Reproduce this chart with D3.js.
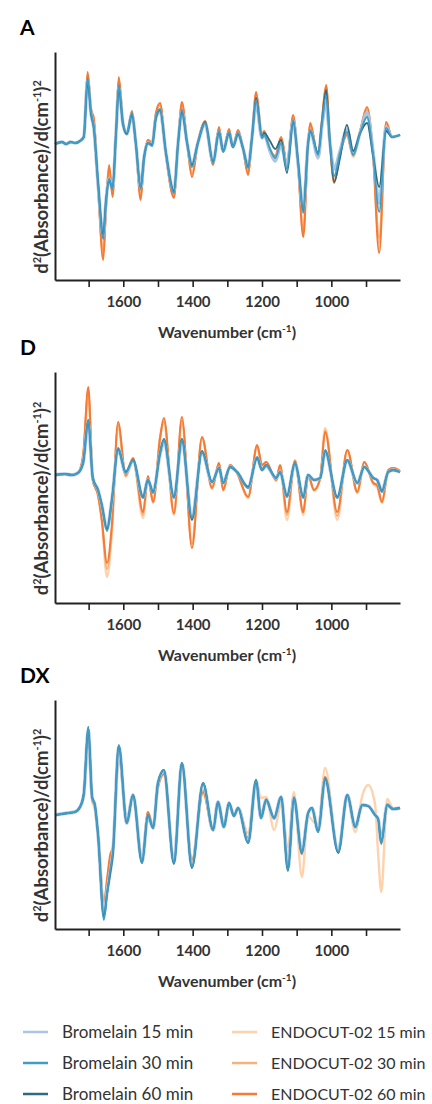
<!DOCTYPE html>
<html>
<head>
<meta charset="utf-8">
<script src="https://cdnjs.cloudflare.com/ajax/libs/d3/7.8.5/d3.min.js"></script>
<style>
  body { margin: 0; background: #fff; }
  text { font-family: Lato, "Open Sans", sans-serif; }
</style>
</head>
<body>
<svg id="chart" width="432" height="1104"></svg>
<script>

// legend entries
var seriesNames = ['Bromelain 15 min', 'Bromelain 30 min', 'Bromelain 60 min',
                   'ENDOCUT-02 15 min', 'ENDOCUT-02 30 min', 'ENDOCUT-02 60 min'];
var seriesColors = ['#a8c6e6', '#3f9dc6', '#2c6b7e', '#fdd3ae', '#fbb27a', '#f47a35'];
var xTicks = [1700, 1600, 1500, 1400, 1300, 1200, 1100, 1000, 900];
var xTickLabels = [1600, 1400, 1200, 1000];

// ---- panel A (second derivative, arbitrary units) ----
var wnA = [1797,1777,1765,1752,1738,1725,1714,1703,1693,1685,1673,1658,1650,1641,1631,1621,1613,1601,1590,1575,
           1564,1550,1540,1529,1517,1506,1494,1477,1454,1442,1431,1416,1402,1385,1364,1341,1324,1312,1295,1284,
           1269,1255,1240,1229,1217,1200,1194,1177,1162,1145,1128,1110,1096,1081,1067,1061,1038,1027,1015,1004,
           992,975,955,937,917,897,880,862,842,825,802];
var aB15 = [-1,1,-1,1,0,2,6,62,29,15,-40,-93,-58,-36,-45,10,55,19,9,28,
            0,-45,-14,0,-2,25,32,-10,-48,0,31,0,-22,0,19,-19,11,-8,10,-4,
            9,-5,-23,5,40,5,8,-8,-18,-2,-24,22,-20,-65,0,12,-14,18,40,0,
            -26,-8,13,-10,10,30,-8,-60,16,6,8];
var aB30 = [-1,1,-1,1,0,2,6,65,30,16,-40,-96,-60,-36,-46,10,58,20,10,30,
            0,-46,-15,0,-3,26,34,-10,-50,0,33,0,-24,0,20,-20,12,-9,11,-4,
            10,-5,-25,5,43,5,8,-6,-15,0,-26,23,-20,-70,0,13,-12,20,47,0,
            -33,-10,11,-12,10,26,-10,-69,15,6,8];
var aB60 = [-1,1,-1,1,0,2,6,62,29,15,-38,-92,-58,-37,-46,10,55,19,9,28,
            0,-45,-14,0,-2,25,33,-10,-48,0,31,0,-22,0,21,-19,11,-8,10,-4,
            9,-5,-24,5,45,6,10,2,-6,3,-30,21,-18,-68,0,12,-10,22,53,0,
            -39,-15,18,-8,10,20,-12,-44,12,6,8];
var aE15 = [-1,1,-1,1,0,2,7,68,33,22,-42,-110,-65,-25,-50,12,62,20,9,30,
            0,-52,-15,3,0,29,38,-12,-53,0,38,0,-30,0,21,-21,14,-9,13,-4,
            12,-5,-29,5,48,8,12,-8,-16,5,-21,26,-22,-90,0,18,-16,22,56,0,
            -36,-11,8,-14,12,34,-10,-100,20,6,8];
var aE30 = [-1,1,-1,1,0,2,7,68,32,22,-42,-108,-64,-26,-50,12,63,20,9,30,
            0,-53,-15,3,0,29,38,-12,-53,0,39,0,-31,0,21,-21,15,-9,13,-4,
            12,-5,-30,5,49,7,11,-7,-14,5,-21,26,-22,-88,0,18,-14,22,56,0,
            -38,-11,8,-13,12,33,-10,-95,20,6,8];
var aE60 = [-1,1,-1,1,0,2,7,71,34,25,-43,-117,-66,-22,-54,12,66,21,9,32,
            0,-57,-16,3,0,30,40,-12,-55,0,41,0,-34,0,22,-22,16,-9,14,-4,
            13,-5,-32,5,51,8,12,-6,-13,6,-20,28,-22,-94,0,20,-14,23,58,0,
            -40,-11,8,-12,12,36,-10,-110,21,6,8];

// ---- panel D ----
var wnD = [1797,1768,1748,1731,1716,1701,1688,1673,1662,1647,1633,1615,1593,1572,1543,1529,1514,1494,1483,1454,
           1431,1402,1373,1344,1324,1312,1292,1272,1240,1214,1200,1188,1159,1148,1128,1105,1081,1067,1050,1032,
           1018,983,954,925,905,879,868,854,836,822,802];
var dB15 = [0,1,0,2,12,52,-3,-15,-30,-54,-25,26,2,14,-22,-5,-17,21,33,-22,
            33,-41,22,-7,7,-8,8,3,-12,17,5,9,-3,3,-21,11,-22,0,-5,-3,
            23,-22,14,-8,8,-3,-5,-16,3,5,3];
var dB30 = [0,1,0,2,12,55,-3,-15,-30,-56,-26,27,2,15,-23,-5,-18,22,35,-23,
            35,-43,23,-7,7,-8,8,3,-13,18,5,10,-3,3,-22,12,-23,0,-5,-3,
            25,-23,15,-8,8,-3,-5,-17,3,5,3];
var dB60 = [0,1,0,2,12,55,-3,-15,-30,-54,-25,26,3,15,-22,-5,-17,22,36,-22,
            36,-45,24,-7,7,-8,8,3,-12,17,5,10,-3,3,-21,12,-22,0,-5,-3,
            24,-22,15,-8,8,-3,-5,-16,3,5,3];
var dE15 = [0,1,0,2,16,80,-5,-20,-45,-102,-58,48,-2,15,-43,-3,-28,38,52,-40,
            52,-66,37,-14,12,-16,10,2,-23,28,9,12,-6,9,-45,15,-40,0,-16,-3,
            47,-45,24,-18,13,-9,-12,-28,4,7,4];
var dE30 = [0,1,0,2,18,84,-5,-20,-45,-94,-55,50,-1,16,-40,-2,-27,37,54,-39,
            55,-69,37,-13,12,-15,10,2,-22,29,9,13,-5,9,-40,14,-38,0,-15,-3,
            45,-41,25,-17,13,-8,-11,-27,5,7,4];
var dE60 = [0,1,0,2,20,88,-5,-20,-45,-88,-50,53,0,17,-37,-1,-27,37,57,-38,
            58,-73,38,-13,12,-15,10,2,-22,30,10,13,-5,10,-37,14,-37,0,-15,-3,
            43,-37,25,-17,13,-8,-10,-27,5,7,4];

// ---- panel DX ----
var wnX = [1797,1760,1740,1725,1714,1701,1690,1682,1673,1656,1647,1638,1630,1613,1590,1572,1546,1529,1514,1500,
           1483,1454,1431,1402,1370,1341,1327,1310,1295,1281,1269,1240,1217,1203,1188,1165,1145,1125,1108,1085,
           1067,1056,1038,1018,980,954,931,911,894,874,865,856,839,822,802];
var xB15 = [-1,1,2,7,20,84,17,9,-20,-100,-78,-58,-38,67,-9,19,-48,-2,-14,31,
            43,-48,50,-52,30,-16,12,-13,11,-2,6,-28,33,-4,14,-4,17,-54,16,-38,
            1,6,-17,34,-37,19,-13,9,8,-1,-5,-28,9,5,6];
var xB30 = [-1,1,2,7,20,87,17,9,-20,-106,-80,-57,-38,69,-9,19,-49,-1,-14,31,
            44,-49,51,-53,31,-16,12,-13,11,-2,6,-29,34,-4,14,-4,17,-56,16,-39,
            1,6,-18,36,-38,19,-13,9,8,-1,-5,-29,9,5,6];
var xB60 = [-1,1,2,7,20,87,17,9,-20,-103,-80,-60,-40,68,-9,19,-49,-1,-14,31,
            44,-50,51,-54,31,-16,12,-13,11,-2,6,-29,34,-4,14,-4,17,-57,16,-39,
            1,6,-18,35,-39,19,-13,9,8,-1,-5,-29,9,5,6];
var xE15 = [-1,1,2,6,17,71,13,5,-22,-86,-72,-55,-38,57,-5,19,-46,2,-12,26,
            39,-46,46,-46,21,-16,12,-13,11,-2,6,-19,34,16,17,-16,9,-33,22,-63,
            -2,-6,-11,46,-38,17,-18,18,29,10,-40,-78,15,6,6];
var xE30 = [-1,1,2,7,19,78,15,7,-21,-92,-70,-50,-35,60,-6,19,-47,1,-13,28,
            41,-48,48,-48,24,-16,12,-13,11,-2,6,-25,34,-2,15,-5,15,-50,17,-40,
            1,5,-16,37,-38,19,-13,9,8,-1,-5,-30,10,5,6];
var xE60 = [-1,1,2,7,19,80,15,7,-21,-90,-65,-41,-33,58,-5,19,-46,2,-13,27,
            40,-47,47,-46,22,-16,12,-13,11,-2,6,-24,34,-1,15,-5,15,-48,17,-40,
            1,5,-16,37,-38,19,-13,9,8,-1,-5,-30,10,5,6];


var panels = [
    {label: 'A',  top: 52,  bottom: 280, yDomain: [-137, 91],  wn: wnA, values: [aB15, aB30, aB60, aE15, aE30, aE60]},
    {label: 'D',  top: 372, bottom: 603, yDomain: [-128, 103], wn: wnD, values: [dB15, dB30, dB60, dE15, dE30, dE60]},
    {label: 'DX', top: 700, bottom: 929, yDomain: [-115, 114], wn: wnX, values: [xB15, xB30, xB60, xE15, xE30, xE60]}
];

// draw order: orange series first, then the light blue halo, dark teal, mid blue on top
var drawOrder = [3, 4, 5, 0, 2, 1];
var strokeW = [3.4, 1.8, 1.8, 2.4, 2, 2];

var svg = d3.select('#chart');
var x = d3.scaleLinear().domain([1797, 802]).range([55, 400]);

panels.forEach(function(p) {
    var y = d3.scaleLinear().domain(p.yDomain).range([p.bottom, p.top]);
    var g = svg.append('g');

    //Panel letter
    g.append('text')
        .attr('x', 20).attr('y', p.top - 17)
        .attr('font-size', 21).attr('font-weight', 'bold').attr('fill', '#000')
        .text(p.label);

    var line = d3.line()
        .x(function(d) { return x(d[0]); })
        .y(function(d) { return y(d[1]); })
        .curve(d3.curveMonotoneX);

    drawOrder.forEach(function(s) {
        var pts = p.wn.map(function(w, i) { return [w, p.values[s][i]]; });
        g.append('path')
            .attr('d', line(pts))
            .attr('fill', 'none')
            .attr('stroke', seriesColors[s])
            .attr('stroke-width', strokeW[s])
            .attr('stroke-linejoin', 'round');
    });

    //Axes
    var xAxis = d3.axisBottom(x)
        .tickValues(xTicks)
        .tickSizeInner(7).tickSizeOuter(0).tickPadding(9)
        .tickFormat(function(d) { return xTickLabels.indexOf(d) >= 0 ? d : ''; });
    var xg = g.append('g').attr('transform', 'translate(0,' + p.bottom + ')').call(xAxis);
    xg.select('.domain').attr('stroke', '#222').attr('stroke-width', 2);
    xg.selectAll('.tick line').attr('stroke', '#222').attr('stroke-width', 1.6);
    xg.selectAll('.tick text')
        .attr('font-family', 'Lato, sans-serif')
        .attr('font-size', 15).attr('font-weight', 'bold').attr('fill', '#333');

    var yAxis = d3.axisLeft(y).tickValues([]).tickSizeOuter(0);
    var yg = g.append('g').attr('transform', 'translate(55,0)').call(yAxis);
    yg.select('.domain').attr('stroke', '#222').attr('stroke-width', 2);

    //Axis titles
    var xt = g.append('text')
        .attr('x', 227).attr('y', p.bottom + 58)
        .attr('text-anchor', 'middle')
        .attr('font-size', 16).attr('font-weight', 'bold').attr('fill', '#333');
    xt.append('tspan').text('Wavenumber (cm');
    xt.append('tspan').attr('dy', -6).attr('font-size', 10).text('-1');
    xt.append('tspan').attr('dy', 6).text(')');

    var cy = (p.top + p.bottom) / 2 + 11;
    var yt = g.append('text')
        .attr('transform', 'translate(48,' + cy + ') rotate(-90)')
        .attr('text-anchor', 'middle')
        .attr('font-size', 18.5).attr('font-weight', 'bold').attr('fill', '#333');
    yt.append('tspan').text('d');
    yt.append('tspan').attr('dy', -7).attr('font-size', 11).text('2');
    yt.append('tspan').attr('dy', 7).text('(Absorbance)/d(cm');
    yt.append('tspan').attr('dy', -7).attr('font-size', 11).text('-1');
    yt.append('tspan').attr('dy', 7).text(')');
    yt.append('tspan').attr('dy', -7).attr('font-size', 11).text('2');
});

//Legend
var legend = svg.append('g');
seriesNames.forEach(function(name, i) {
    var col = i < 3 ? 0 : 1;
    var row = i % 3;
    var lx = col === 0 ? 23 : 232;
    var ly = 1032 + row * 31;
    legend.append('line')
        .attr('x1', lx).attr('x2', lx + 25)
        .attr('y1', ly).attr('y2', ly)
        .attr('stroke', seriesColors[i]).attr('stroke-width', 2.5);
    legend.append('text')
        .attr('x', lx + 39).attr('y', ly + 6)
        .attr('font-size', col === 0 ? 17 : 16)
        .attr('fill', '#333')
        .text(name);
});

</script>
</body>
</html>
